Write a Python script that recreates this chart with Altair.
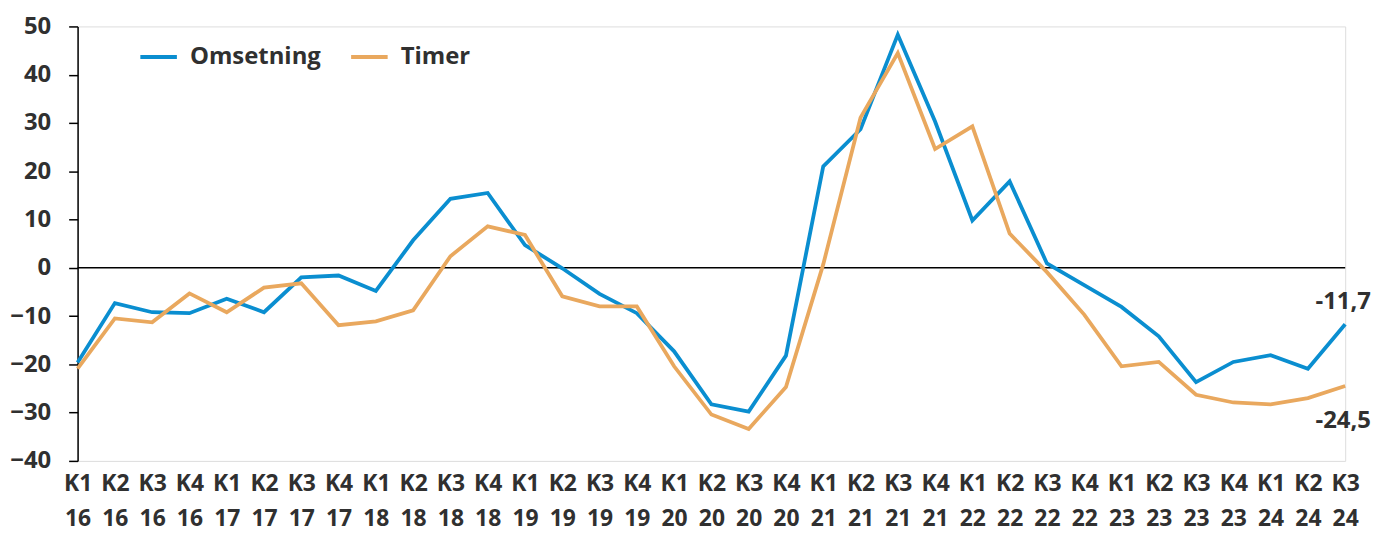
import altair as alt
import pandas as pd

quarters = ["K1 16","K2 16","K3 16","K4 16","K1 17","K2 17","K3 17","K4 17",
            "K1 18","K2 18","K3 18","K4 18","K1 19","K2 19","K3 19","K4 19",
            "K1 20","K2 20","K3 20","K4 20","K1 21","K2 21","K3 21","K4 21",
            "K1 22","K2 22","K3 22","K4 22","K1 23","K2 23","K3 23","K4 23",
            "K1 24","K2 24","K3 24"]
omsetning = [-19.6,-7.3,-9.2,-9.4,-6.4,-9.2,-2.0,-1.6,
             -4.8,5.7,14.3,15.5,4.7,-0.1,-5.4,-9.4,
             -17.3,-28.3,-29.8,-18.2,21.0,28.7,48.3,30.3,
             9.8,17.9,0.9,-3.6,-8.1,-14.2,-23.7,-19.5,
             -18.1,-20.9,-11.7]
timer = [-20.9,-10.5,-11.3,-5.3,-9.2,-4.1,-3.2,-11.9,
         -11.1,-8.8,2.4,8.6,6.8,-5.9,-8.0,-8.0,
         -20.4,-30.4,-33.4,-24.7,0.7,31.1,44.5,24.6,
         29.3,7.1,-0.9,-9.7,-20.4,-19.5,-26.3,-27.9,
         -28.3,-27.0,-24.5]
series_names = ["Omsetning", "Timer"]
colors = ["#0a8ed0", "#e9a85e"]
y_ticks = [-40,-30,-20,-10,0,10,20,30,40,50]

FONT = "Open Sans"
TXT = "#303030"

rows = []
for i, q in enumerate(quarters):
    rows.append({"q": q, "serie": "Omsetning", "v": omsetning[i], "idx": i})
    rows.append({"q": q, "serie": "Timer", "v": timer[i], "idx": i})
df = pd.DataFrame(rows)
df["lbl"] = df["v"].map(lambda v: f"{v:.1f}".replace(".", ","))

last = len(quarters) - 1

x_enc = alt.X("q:O", sort=quarters, title=None,
              scale=alt.Scale(type="point", padding=0),
              axis=alt.Axis(labelExpr="split(datum.label, ' ')", labelAngle=0,
                            domain=False, ticks=False, labelFontSize=23,
                            labelFontWeight="bold", labelColor=TXT,
                            labelLineHeight=35, labelPadding=12,
                            labelFont=FONT, labelBaseline="top"))
y_enc = alt.Y("v:Q", title=None,
              scale=alt.Scale(domain=[-40, 50], nice=False),
              axis=alt.Axis(values=y_ticks, grid=False, domainColor="#000000",
                            domainWidth=1.5, tickColor="#000000", tickWidth=1.5,
                            tickSize=9, labelFontSize=24, labelFontWeight="bold",
                            labelColor=TXT, labelFont=FONT,
                            labelPadding=18))

base = alt.Chart(df)

lines = base.mark_line(strokeWidth=3.8, strokeJoin="miter").encode(
    x=x_enc, y=y_enc,
    color=alt.Color("serie:N", sort=series_names,
                    scale=alt.Scale(domain=series_names, range=colors),
                    legend=alt.Legend(title=None, orient="none", legendX=61, legendY=10,
                                      direction="horizontal", symbolType="stroke",
                                      symbolStrokeWidth=3.8, symbolSize=1350,
                                      labelFontSize=24, labelFontWeight="bold",
                                      labelColor=TXT, labelFont=FONT,
                                      columnPadding=22, labelOffset=11)),
    detail="serie:N",
)

zero = alt.Chart(pd.DataFrame({"z": [0]})).mark_rule(color="#000000", strokeWidth=1.5).encode(
    y=alt.Y("z:Q", scale=alt.Scale(domain=[-40, 50], nice=False))
)

lab_top = base.transform_filter(
    (alt.datum.idx == last) & (alt.datum.serie == "Omsetning")
).mark_text(fontSize=24, fontWeight="bold", color=TXT, font=FONT,
            dy=-22, dx=-2, align="center").encode(x=alt.X("q:O", sort=quarters), y="v:Q", text="lbl:N")

lab_bot = base.transform_filter(
    (alt.datum.idx == last) & (alt.datum.serie == "Timer")
).mark_text(fontSize=24, fontWeight="bold", color=TXT, font=FONT,
            dy=35, dx=-2, align="center").encode(x=alt.X("q:O", sort=quarters), y="v:Q", text="lbl:N")

chart = alt.layer(zero, lines, lab_top, lab_bot).properties(
    width=1275, height=437,
    autosize=alt.AutoSizeParams(type="none"),
    padding={"left": 70, "top": 17, "right": 31, "bottom": 74},
).configure_view(stroke=None).configure(background="white")

chart.save("out.html", embed_options={"renderer": "svg", "actions": False})
